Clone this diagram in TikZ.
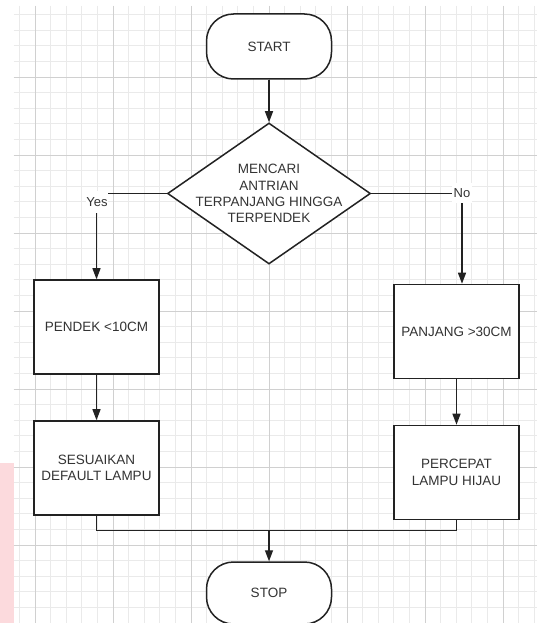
\documentclass[tikz,border=0pt]{standalone}
\usepackage{fontspec}
\setmainfont{Liberation Sans}
\usetikzlibrary{shapes.geometric,arrows.meta}
\definecolor{gmajor}{RGB}{208,208,208}
\definecolor{gminor}{RGB}{234,234,234}
\definecolor{ink}{RGB}{34,34,34}
\definecolor{txt}{RGB}{51,51,51}
\definecolor{wm}{RGB}{252,218,221}
\begin{document}
\begin{tikzpicture}[x=1pt,y=-1pt,
  minorline/.style={draw=gminor,line width=0.8pt},
  majorline/.style={draw=gmajor,line width=0.9pt},
  txtfont/.style={text=txt,font=\fontsize{13.5}{16.4}\selectfont},
  box/.style={draw=ink,line width=1.6pt,fill=white,minimum width=125pt,minimum height=94pt,inner sep=0pt,txtfont,align=center},
  term/.style={draw=ink,line width=1.5pt,fill=white,rounded corners=27pt,minimum width=125pt,minimum height=65pt,inner sep=0pt,txtfont},
  dec/.style={diamond,draw=ink,line width=1.5pt,fill=white,minimum width=203pt,minimum height=141pt,inner sep=0pt},
  conn/.style={draw=ink,line width=1.4pt},
  arr/.style={conn,-{Triangle[length=11pt,width=8pt]}},
  lbl/.style={fill=white,inner sep=0pt,text=txt,font=\fontsize{13}{15}\selectfont}
]
\useasboundingbox (0,0) rectangle (537,623);
\clip (0,0) rectangle (537,623);
\fill[white] (0,0) rectangle (537,623);
% watermark strip
\fill[wm] (0,463) rectangle (14,623);
% grid
\foreach \i in {-1,...,32} {
  \draw[minorline] ({35+15.6*\i},6) -- ({35+15.6*\i},623);
}
\foreach \j in {-4,...,35} {
  \draw[minorline] (13.7,{77+15.6*\j}) -- (537,{77+15.6*\j});
}
\foreach \i in {0,...,6} {
  \draw[majorline] ({35+78*\i},6) -- ({35+78*\i},623);
}
\foreach \j in {0,...,7} {
  \draw[majorline] (13.7,{77+78*\j}) -- (537,{77+78*\j});
}
% nodes
\node[term] (start) at (269,46.5) {START};
\node[dec] (dia) at (269,193.5) {};
\node[txtfont,align=center] (diat) at (269,193.5) {MENCARI\\ANTRIAN\\TERPANJANG HINGGA\\TERPENDEK};
\node[box] (b1) at (96.5,327) {PENDEK {<}10CM};
\node[box] (b2) at (96.5,468) {SESUAIKAN\\DEFAULT LAMPU};
\node[box] (b3) at (456.5,331.5) {PANJANG {>}30CM};
\node[box] (b4) at (456.5,472.5) {PERCEPAT\\LAMPU HIJAU};
\node[term,minimum height=62pt] (stop) at (269,593) {STOP};
% connectors
\coordinate (cy) at (96.5,193.5);
\coordinate (cn) at (462,193.5);
\coordinate (m) at (269,530.5);
\draw[arr] (start.south) -- (dia.north);
\draw[arr] (dia.west) -- (cy) -- (b1.north);
\draw[arr] (dia.east) -- (cn) -- (cn |- b3.north);
\node[lbl,minimum width=22pt,minimum height=22pt] (yes) at (97,202) {Yes};
\node[lbl,minimum width=20pt,minimum height=20pt] (no) at (462,193) {No};
\draw[arr] (b1.south) -- (b2.north);
\draw[arr] (b3.south) -- (b4.north);
\draw[conn] (b2.south) |- (m) -| (b4.south);
\draw[arr] (m) -- (stop.north);
\end{tikzpicture}
\end{document}
